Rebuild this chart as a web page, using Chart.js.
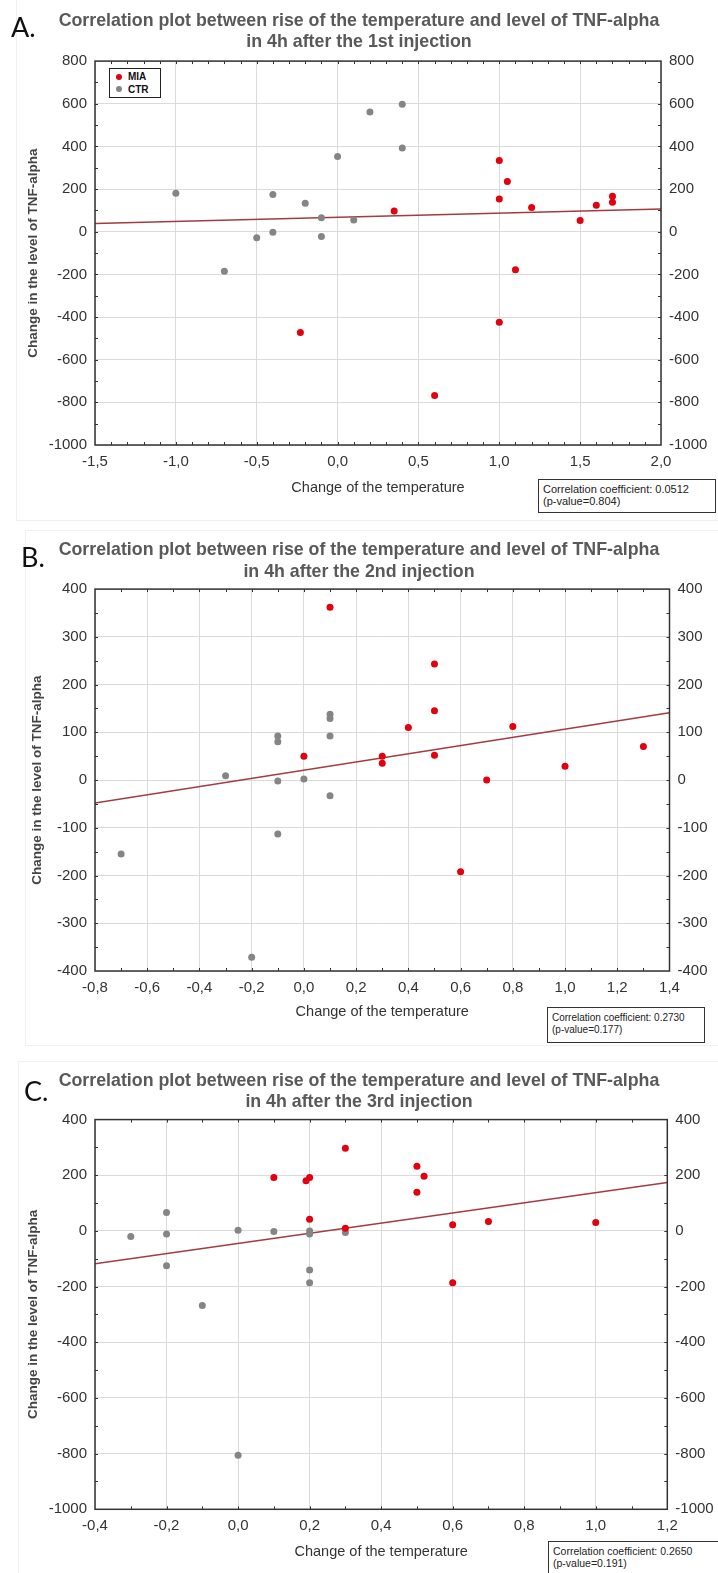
<!DOCTYPE html>
<html>
<head>
<meta charset="utf-8">
<title>TNF-alpha vs temperature</title>
<script src="https://cdn.jsdelivr.net/npm/chart.js@4.4.1/dist/chart.umd.min.js"></script>
<style>
  html, body { margin: 0; padding: 0; background: #fff; }
  body { width: 718px; height: 1573px; position: relative; overflow: hidden; font-family: 'Liberation Sans', Arial, sans-serif; }
  .panel { position: absolute; left: 0; width: 718px; }
  .panel canvas { position: absolute; left: 0; top: 0; }
  .pframe { position: absolute; border: 1px solid #f0f0f0; }
  .letter { position: absolute; font-family: Lato, 'Open Sans', sans-serif; font-size: 27px; line-height: 1; color: #111; }
  .corr { position: absolute; box-sizing: border-box; border: 1px solid #333; background: #fff; color: #222;
          font-size: 11px; line-height: 11.7px; padding: 4px 0 0 4px; white-space: nowrap; }
  .legend { position: absolute; box-sizing: border-box; width: 52px; height: 30px; border: 1.5px solid #222; background: #fff;
            font-size: 10px; font-weight: bold; color: #111; }
  .legend .dot { position: absolute; width: 6px; height: 6px; border-radius: 50%; }
  .legend .lbl { position: absolute; left: 18px; line-height: 10px; }
</style>
</head>
<body>

<div class="pframe" style="left:16px;top:-1px;width:702px;height:520px;"></div>
<div class="pframe" style="left:25px;top:530px;width:694px;height:514px;"></div>
<div class="pframe" style="left:18px;top:1061px;width:701px;height:513px;"></div>

<div class="panel" style="top:0;height:520px;"><canvas id="chartA" width="718" height="520"></canvas></div>
<div class="panel" style="top:520px;height:525px;"><canvas id="chartB" width="718" height="525"></canvas></div>
<div class="panel" style="top:1045px;height:528px;"><canvas id="chartC" width="718" height="528"></canvas></div>

<div class="letter" style="left:11px;top:13px;">A.</div>
<div class="letter" style="left:21px;top:543px;">B.</div>
<div class="letter" style="left:24px;top:1077px;">C.</div>

<div class="legend" style="left:109px;top:68px;">
  <span class="dot" style="left:6px;top:4.5px;background:#e3000f;"></span><span class="lbl" style="top:3px;">MIA</span>
  <span class="dot" style="left:6px;top:17px;background:#858585;"></span><span class="lbl" style="top:15.5px;">CTR</span>
</div>

<div class="corr" style="left:538px;top:479px;width:178px;height:34px;">Correlation coefficient: 0.0512<br>(p-value=0.804)</div>
<div class="corr" style="left:547px;top:1007px;width:158px;height:36px;font-size:10px;">Correlation coefficient: 0.2730<br>(p-value=0.177)</div>
<div class="corr" style="left:548px;top:1541px;width:178px;height:40px;font-size:10.5px;">Correlation coefficient: 0.2650<br>(p-value=0.191)</div>

<script>
// Donn√©es (temp√©rature en x, TNF-alpha en y)

// A. 1re injection
const miaA_x = [0.35, 1.0, 1.05, 1.0, 1.2, 1.5, 1.6, 1.7, 1.7, 1.1, -0.23, 1.0, 0.6];
const miaA_y = [97, 334, 235, 153, 113, 53, 124, 166, 138, -178, -473, -425, -768];
const ctrA_x = [-1.0, -0.4, -0.2, -0.1, 0.0, 0.1, 0.2, 0.4, 0.4, -0.5, -0.4, -0.1, -0.7];
const ctrA_y = [180, 175, 134, 66, 353, 55, 561, 597, 392, -28, -3, -22, -185];
const fitA_x = [-1.5, 2.0];
const fitA_y = [38, 107];

// B. 2e injection
const miaB_x = [0.1, 0.5, 0.5, 0.4, 0.8, 0.0, 0.3, 0.3, 0.5, 1.0, 1.3, 0.7, 0.6];
const miaB_y = [362, 243, 145, 110, 112, 50, 50, 35, 52, 29, 70, 0, -192];
const ctrB_x = [-0.1, -0.1, 0.1, 0.1, 0.1, -0.3, -0.1, 0.0, 0.1, -0.1, -0.7, -0.2];
const ctrB_y = [92, 80, 138, 129, 92, 9, -2, 2, -33, -113, -155, -371];
const fitB_x = [-0.8, 1.4];
const fitB_y = [-48, 141];

// C. 3e injection
const miaC_x = [0.3, 0.5, 0.52, 0.5, 0.1, 0.19, 0.2, 0.2, 0.3, 0.6, 0.7, 1.0, 0.6];
const miaC_y = [297, 232, 196, 139, 192, 180, 192, 42, 10, 22, 34, 30, -186];
const ctrC_x = [-0.3, -0.2, -0.2, -0.2, 0.0, 0.1, 0.2, 0.2, 0.2, 0.2, 0.3, -0.1, 0.0];
const ctrC_y = [-20, 66, -11, -125, 2, -2, 0, -11, -140, -186, -6, -268, -806];
const fitC_x = [-0.4, 1.2];
const fitC_y = [-118, 174];

const titleLine2 = ['in 4h after the 1st injection', 'in 4h after the 2nd injection', 'in 4h after the 3rd injection'];
const titleLine1 = 'Correlation plot between rise of the temperature and level of TNF-alpha';

const RED = '#e3000f';
const GRAY = '#858585';
const FIT = '#a33c40';
const GRID = '#dadada';

function toPoints(xs, ys) {
    return xs.map((x, i) => ({ x: x, y: ys[i] }));
}

function fmtX(v) {
    if (Math.abs(v) < 1e-9) v = 0;
    return v.toFixed(1).replace('.', ',');
}

function fmtY(v) {
    return String(Math.round(v));
}

// Cadre autour de la zone de trac√© + petites graduations
const framePlugin = {
    id: 'frame',
    afterDraw(chart, args, opts) {
        const { ctx, chartArea: a, scales } = chart;
        ctx.save();
        ctx.strokeStyle = '#333';
        ctx.lineWidth = 1;
        ctx.beginPath();
        const nx = Math.round((scales.x.max - scales.x.min) / opts.xMinor);
        for (let i = 1; i < nx; i++) {
            const px = Math.round(scales.x.getPixelForValue(scales.x.min + i * opts.xMinor)) + 0.5;
            ctx.moveTo(px, a.top); ctx.lineTo(px, a.top + 3);
            ctx.moveTo(px, a.bottom); ctx.lineTo(px, a.bottom - 3);
        }
        const ny = Math.round((scales.y.max - scales.y.min) / opts.yMinor);
        for (let i = 1; i < ny; i++) {
            const py = Math.round(scales.y.getPixelForValue(scales.y.min + i * opts.yMinor)) + 0.5;
            ctx.moveTo(a.left, py); ctx.lineTo(a.left + 3, py);
            ctx.moveTo(a.right, py); ctx.lineTo(a.right - 3, py);
        }
        ctx.stroke();
        ctx.lineWidth = 1.5;
        ctx.strokeRect(a.left, a.top, a.right - a.left, a.bottom - a.top);
        ctx.restore();
    }
};

function makePanel(cfg) {
    const ctx = document.getElementById(cfg.id).getContext('2d');
    const tickFont = { family: "'Liberation Sans', Arial, sans-serif", size: 15 };

    return new Chart(ctx, {
        type: 'scatter',
        data: {
            datasets: [{
                label: 'MIA',
                data: toPoints(cfg.miaX, cfg.miaY),
                backgroundColor: RED,
                pointRadius: 3.5,
                pointBorderWidth: 0
            }, {
                label: 'CTR',
                data: toPoints(cfg.ctrX, cfg.ctrY),
                backgroundColor: GRAY,
                pointRadius: 3.5,
                pointBorderWidth: 0
            }, {
                label: 'fit',
                data: toPoints(cfg.fitX, cfg.fitY),
                showLine: true,
                borderColor: FIT,
                borderWidth: 1.5,
                pointRadius: 0
            }]
        },
        options: {
            responsive: false,
            animation: false,
            layout: { padding: 0 },
            plugins: {
                legend: { display: false },
                tooltip: { enabled: false },
                title: {
                    display: true,
                    text: [titleLine1, cfg.title2],
                    color: '#595959',
                    font: { family: "'Liberation Sans', Arial, sans-serif", size: 17.8, weight: 'bold', lineHeight: 1.21 },
                    padding: { top: cfg.titleTop, bottom: cfg.titleBottom }
                },
                frame: { xMinor: cfg.xMinor, yMinor: cfg.yMinor }
            },
            scales: {
                x: {
                    type: 'linear',
                    min: cfg.xMin,
                    max: cfg.xMax,
                    ticks: { stepSize: cfg.xStep, callback: fmtX, font: tickFont, color: '#333', padding: 8 },
                    grid: { color: GRID, drawTicks: false },
                    border: { display: false },
                    title: {
                        display: true,
                        text: 'Change of the temperature',
                        color: '#333',
                        font: { family: "'Liberation Sans', Arial, sans-serif", size: 14.5 },
                        padding: { top: 0, bottom: cfg.xTitlePad }
                    },
                    afterFit: function(s) { s.height = cfg.xAxisH; }
                },
                y: {
                    position: 'left',
                    min: cfg.yMin,
                    max: cfg.yMax,
                    ticks: { stepSize: cfg.yStep, callback: fmtY, font: tickFont, color: '#333', padding: 8 },
                    grid: { color: GRID, drawTicks: false },
                    border: { display: false },
                    title: {
                        display: true,
                        text: 'Change in the level of TNF-alpha',
                        color: '#444',
                        font: { family: "'Liberation Sans', Arial, sans-serif", size: 13.5, weight: 'bold' },
                        padding: { top: cfg.yTitlePad, bottom: 0 }
                    },
                    afterFit: function(s) { s.width = 95; }
                },
                y2: {
                    position: 'right',
                    min: cfg.yMin,
                    max: cfg.yMax,
                    ticks: { stepSize: cfg.yStep, callback: fmtY, font: tickFont, color: '#333', padding: 8 },
                    grid: { display: false, drawTicks: false },
                    border: { display: false },
                    afterFit: function(s) { s.width = cfg.rightW; }
                }
            }
        },
        plugins: [framePlugin]
    });
}

document.addEventListener('DOMContentLoaded', function() {
    makePanel({
        id: 'chartA', title2: titleLine2[0],
        miaX: miaA_x, miaY: miaA_y, ctrX: ctrA_x, ctrY: ctrA_y, fitX: fitA_x, fitY: fitA_y,
        xMin: -1.5, xMax: 2.0, xStep: 0.5, xMinor: 0.1,
        yMin: -1000, yMax: 800, yStep: 200, yMinor: 100,
        titleTop: 10, titleBottom: 8, xAxisH: 75, xTitlePad: 23, yTitlePad: 25, rightW: 57
    });
    makePanel({
        id: 'chartB', title2: titleLine2[1],
        miaX: miaB_x, miaY: miaB_y, ctrX: ctrB_x, ctrY: ctrB_y, fitX: fitB_x, fitY: fitB_y,
        xMin: -0.8, xMax: 1.4, xStep: 0.2, xMinor: 0.1,
        yMin: -400, yMax: 400, yStep: 100, yMinor: 50,
        titleTop: 19.5, titleBottom: 6.5, xAxisH: 74, xTitlePad: 24.5, yTitlePad: 29, rightW: 48.5
    });
    makePanel({
        id: 'chartC', title2: titleLine2[2],
        miaX: miaC_x, miaY: miaC_y, ctrX: ctrC_x, ctrY: ctrC_y, fitX: fitC_x, fitY: fitC_y,
        xMin: -0.4, xMax: 1.2, xStep: 0.2, xMinor: 0.1,
        yMin: -1000, yMax: 400, yStep: 200, yMinor: 100,
        titleTop: 25, titleBottom: 6.5, xAxisH: 63.7, xTitlePad: 12.6, yTitlePad: 25, rightW: 50.7
    });
});
</script>
</body>
</html>
